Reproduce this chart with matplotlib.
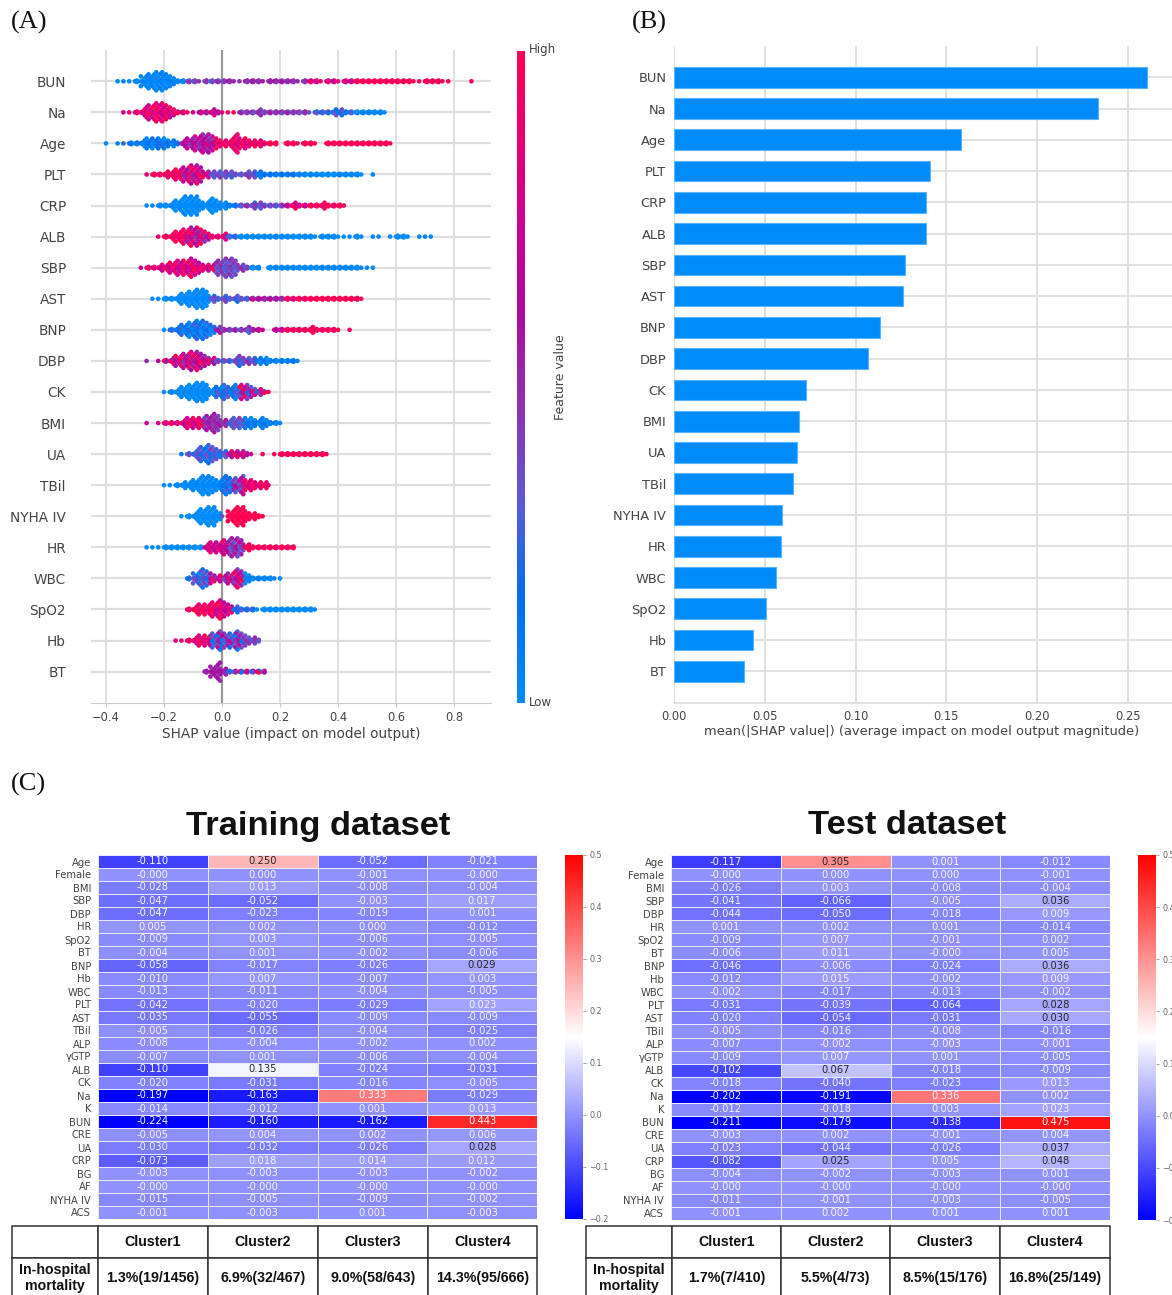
import numpy as np
import matplotlib
matplotlib.use("Agg")
import matplotlib.pyplot as plt
from matplotlib.colors import LinearSegmentedColormap, Normalize

W, H = 1172, 1295
TXT = "#444444"
GRID = "#dedede"

# ---------- Panel A / B shared ----------
features = ["BUN", "Na", "Age", "PLT", "CRP", "ALB", "SBP", "AST", "BNP", "DBP",
            "CK", "BMI", "UA", "TBil", "NYHA IV", "HR", "WBC", "SpO2", "Hb", "BT"]
mean_abs_shap = [0.2605, 0.2335, 0.158, 0.141, 0.139, 0.139, 0.127, 0.126, 0.1135, 0.107,
                 0.0725, 0.069, 0.068, 0.0655, 0.0595, 0.059, 0.056, 0.0505, 0.0435, 0.0385]

# Swarm profiles: first bin (SHAP), half-stack height per 0.02-wide bin
# (-1 = no point), and feature-value ranges per SHAP interval.
BUN_start = -0.36
BUN_stack = [0,0,0,1,3,4,5,5,4,3,1,1,1,1,0,1,1,1,1,1,0,0,1,1,1,0,1,1,1,1,1,0,1,1,1,0,1,1,0,1,1,1,1,1,1,1,1,1,1,1,1,0,0,1,1,1,0,0,-1,-1,-1,0]
BUN_edges = [-0.13, 0.0, 0.3, 0.45, 9]
BUN_lo = [0.0, 0.3, 0.42, 0.7, 0.93]
BUN_hi = [0.08, 0.5, 0.6, 0.88, 1.0]

Na_start = -0.34
Na_stack = [0,0,1,2,4,5,5,4,3,1,1,0,0,1,1,2,1,0,0,0,1,1,1,2,1,1,1,1,1,1,1,1,0,1,1,1,2,2,1,1,1,1,1,1,1,0]
Na_edges = [-0.14, 0.0, 0.05, 0.3, 0.45, 9]
Na_lo = [0.7, 0.55, 0.85, 0.35, 0.1, 0.0]
Na_hi = [1.0, 0.95, 1.0, 0.55, 0.35, 0.05]

Age_start = -0.40
Age_stack = [0,-1,0,0,1,1,2,3,3,3,3,2,1,2,3,4,5,5,4,3,2,2,5,3,3,2,2,1,1,1,-1,1,1,0,1,1,0,-1,1,1,1,1,1,1,1,1,1,1,1,0]
Age_edges = [-0.16, -0.03, 0.15, 9]
Age_lo = [0.0, 0.45, 0.8, 0.98]
Age_hi = [0.22, 0.78, 1.0, 1.0]

PLT_start = -0.26
PLT_stack = [0,1,1,2,2,3,4,5,5,4,2,2,2,2,2,1,1,2,2,2,1,1,1,1,1,1,1,1,1,1,1,1,1,1,1,1,1,0,-1,0]
PLT_edges = [-0.16, -0.06, 0.1, 0.25, 9]
PLT_lo = [0.85, 0.5, 0.25, 0.05, 0.0]
PLT_hi = [1.0, 1.0, 0.45, 0.2, 0.05]

CRP_start = -0.26
CRP_stack = [0,0,1,1,2,3,5,5,5,3,2,4,3,2,1,1,1,1,2,2,1,1,1,1,1,2,1,1,1,1,2,1,1,1,0]
CRP_edges = [0.0, 0.05, 0.2, 0.3, 9]
CRP_lo = [0.0, 0.05, 0.25, 0.6, 0.88]
CRP_hi = [0.02, 0.15, 0.5, 0.95, 1.0]

ALB_start = -0.22
ALB_stack = [0,1,2,3,4,5,5,4,3,1,1,2,1,1,1,1,1,1,1,1,1,1,1,1,1,1,1,0,1,1,1,0,0,0,1,0,-1,0,0,-1,0,1,1,0,-1,0,0,0]
ALB_edges = [-0.14, -0.05, 0.0, 0.05, 9]
ALB_lo = [0.88, 0.45, 0.75, 0.18, 0.0]
ALB_hi = [1.0, 1.0, 0.95, 0.3, 0.02]

SBP_start = -0.28
SBP_stack = [0,1,1,2,2,3,4,4,5,4,3,2,2,4,5,5,4,2,1,1,1,-1,1,1,1,1,1,1,1,1,1,1,1,1,1,1,1,1,0,0,0]
SBP_edges = [-0.04, 0.09, 9]
SBP_lo = [0.65, 0.28, 0.0]
SBP_hi = [1.0, 0.5, 0.05]

AST_start = -0.24
AST_stack = [0,0,1,1,2,3,4,5,5,4,2,1,2,1,2,1,1,1,1,1,1,1,1,1,1,1,1,1,1,1,1,1,1,1,1,1,0]
AST_edges = [-0.04, 0.1, 0.2, 0.3, 9]
AST_lo = [0.0, 0.2, 0.42, 0.8, 0.96]
AST_hi = [0.02, 0.42, 0.72, 1.0, 1.0]

BNP_start = -0.20
BNP_stack = [0,1,2,3,4,5,5,4,3,2,1,1,1,1,2,1,1,0,-1,1,1,1,1,1,1,2,1,1,1,1,0,-1,0]
BNP_edges = [-0.03, 0.1, 0.2, 9]
BNP_lo = [0.0, 0.3, 0.6, 0.9]
BNP_hi = [0.25, 0.6, 0.8, 1.0]

DBP_start = -0.26
DBP_stack = [0,-1,0,1,2,3,4,5,5,4,3,2,1,1,1,2,3,2,2,2,2,1,1,1,1,1,0]
DBP_edges = [-0.04, 0.1, 9]
DBP_lo = [0.48, 0.2, 0.0]
DBP_hi = [1.0, 0.48, 0.15]

CK_start = -0.20
CK_stack = [0,1,2,3,4,5,5,4,2,3,4,3,4,4,4,3,2,1,0]
CK_edges = [-0.03, 0.04, 0.14, 9]
CK_lo = [0.0, 0.05, 0.2, 0.9]
CK_hi = [0.02, 0.3, 1.0, 1.0]

BMI_start = -0.26
BMI_stack = [0,-1,0,1,1,1,2,3,3,3,4,5,4,2,2,3,3,3,3,2,3,1,1,0]
BMI_edges = [-0.07, 0.0, 0.06, 9]
BMI_lo = [0.7, 0.4, 0.25, 0.0]
BMI_hi = [1.0, 0.6, 0.45, 0.15]

UA_start = -0.14
UA_stack = [0,1,2,4,5,4,3,2,2,2,2,1,0,-1,0,-1,0,1,1,1,1,1,1,1,1,0]
UA_edges = [0.0, 0.1, 9]
UA_lo = [0.1, 0.5, 0.95]
UA_hi = [0.4, 0.95, 1.0]

TBil_start = -0.20
TBil_stack = [0,0,1,2,2,3,5,5,4,3,5,4,4,5,3,3,2,2,0]
TBil_edges = [-0.02, 0.03, 0.08, 9]
TBil_lo = [0.0, 0.08, 0.28, 0.8]
TBil_hi = [0.03, 0.25, 0.7, 1.0]

NYHA_start = -0.14
NYHA_stack = [0,1,2,4,5,5,3,0,3,5,5,3,2,1,0]
NYHA_edges = [-0.01, 0.015, 9]
NYHA_lo = [0.0, 0.3, 1.0]
NYHA_hi = [0.0, 0.4, 1.0]

HR_start = -0.26
HR_stack = [0,0,0,1,1,1,1,1,1,1,2,3,3,4,5,5,4,2,1,1,1,1,1,1,1,1]
HR_edges = [-0.07, 0.0, 0.07, 9]
HR_lo = [0.0, 0.6, 0.3, 0.9]
HR_hi = [0.0, 0.9, 0.7, 1.0]

WBC_start = -0.12
WBC_stack = [1,3,5,4,3,2,2,3,5,4,3,1,1,1,1,0,0]
WBC_edges = [-0.04, 0.08, 9]
WBC_lo = [0.1, 0.4, 0.0]
WBC_hi = [0.4, 1.0, 0.1]

SpO2_start = -0.12
SpO2_stack = [1,2,3,3,4,5,4,3,2,1,1,1,0,1,1,1,1,1,1,1,1,1,0]
SpO2_edges = [-0.03, 0.04, 0.1, 9]
SpO2_lo = [0.85, 0.6, 0.1, 0.0]
SpO2_hi = [1.0, 1.0, 0.3, 0.02]

Hb_start = -0.16
Hb_stack = [0,0,1,2,3,3,4,5,4,4,5,4,3,2,1]
Hb_edges = [-0.05, 0.07, 9]
Hb_lo = [0.75, 0.1, 0.3]
Hb_hi = [1.0, 0.7, 0.5]

BT_start = -0.06
BT_stack = [1,3,5,2,1,1,1,1,1,1,1]
BT_edges = [0.0, 0.03, 9]
BT_lo = [0.5, 0.1, 0.1]
BT_hi = [0.6, 0.3, 1.0]

swarm_rows = [
    (BUN_start, BUN_stack, BUN_edges, BUN_lo, BUN_hi), (Na_start, Na_stack, Na_edges, Na_lo, Na_hi),
    (Age_start, Age_stack, Age_edges, Age_lo, Age_hi), (PLT_start, PLT_stack, PLT_edges, PLT_lo, PLT_hi),
    (CRP_start, CRP_stack, CRP_edges, CRP_lo, CRP_hi), (ALB_start, ALB_stack, ALB_edges, ALB_lo, ALB_hi),
    (SBP_start, SBP_stack, SBP_edges, SBP_lo, SBP_hi), (AST_start, AST_stack, AST_edges, AST_lo, AST_hi),
    (BNP_start, BNP_stack, BNP_edges, BNP_lo, BNP_hi), (DBP_start, DBP_stack, DBP_edges, DBP_lo, DBP_hi),
    (CK_start, CK_stack, CK_edges, CK_lo, CK_hi), (BMI_start, BMI_stack, BMI_edges, BMI_lo, BMI_hi),
    (UA_start, UA_stack, UA_edges, UA_lo, UA_hi), (TBil_start, TBil_stack, TBil_edges, TBil_lo, TBil_hi),
    (NYHA_start, NYHA_stack, NYHA_edges, NYHA_lo, NYHA_hi), (HR_start, HR_stack, HR_edges, HR_lo, HR_hi),
    (WBC_start, WBC_stack, WBC_edges, WBC_lo, WBC_hi), (SpO2_start, SpO2_stack, SpO2_edges, SpO2_lo, SpO2_hi),
    (Hb_start, Hb_stack, Hb_edges, Hb_lo, Hb_hi), (BT_start, BT_stack, BT_edges, BT_lo, BT_hi),
]

# ---------- Panel C ----------
rows_c = ["Age", "Female", "BMI", "SBP", "DBP", "HR", "SpO2", "BT", "BNP", "Hb", "WBC", "PLT", "AST", "TBil",
          "ALP", "γGTP", "ALB", "CK", "Na", "K", "BUN", "CRE", "UA", "CRP", "BG", "AF", "NYHA IV", "ACS"]
train_c1 = [-0.110,-0.000,-0.028,-0.047,-0.047,0.005,-0.009,-0.004,-0.058,-0.010,-0.013,-0.042,-0.035,-0.005,
            -0.008,-0.007,-0.110,-0.020,-0.197,-0.014,-0.224,-0.005,-0.030,-0.073,-0.003,-0.000,-0.015,-0.001]
train_c2 = [0.250,0.000,0.013,-0.052,-0.023,0.002,0.003,0.001,-0.017,0.007,-0.011,-0.020,-0.055,-0.026,
            -0.004,0.001,0.135,-0.031,-0.163,-0.012,-0.160,0.004,-0.032,0.018,-0.003,-0.000,-0.005,-0.003]
train_c3 = [-0.052,-0.001,-0.008,-0.003,-0.019,0.000,-0.006,-0.002,-0.026,-0.007,-0.004,-0.029,-0.009,-0.004,
            -0.002,-0.006,-0.024,-0.016,0.333,0.001,-0.162,0.002,-0.026,0.014,-0.003,-0.000,-0.009,0.001]
train_c4 = [-0.021,-0.000,-0.004,0.017,0.001,-0.012,-0.005,-0.006,0.029,0.003,-0.005,0.023,-0.009,-0.025,
            0.002,-0.004,-0.031,-0.005,-0.029,0.013,0.443,0.006,0.028,0.012,-0.002,-0.000,-0.002,-0.003]
test_c1 = [-0.117,-0.000,-0.026,-0.041,-0.044,0.001,-0.009,-0.006,-0.046,-0.012,-0.002,-0.031,-0.020,-0.005,
           -0.007,-0.009,-0.102,-0.018,-0.202,-0.012,-0.211,-0.003,-0.023,-0.082,-0.004,-0.000,-0.011,-0.001]
test_c2 = [0.305,0.000,0.003,-0.066,-0.050,0.002,0.007,0.011,-0.006,0.015,-0.017,-0.039,-0.054,-0.016,
           -0.002,0.007,0.067,-0.040,-0.191,-0.018,-0.179,0.002,-0.044,0.025,-0.002,-0.000,-0.001,0.002]
test_c3 = [0.001,0.000,-0.008,-0.005,-0.018,0.001,-0.001,-0.000,-0.024,-0.002,-0.013,-0.064,-0.031,-0.008,
           -0.003,0.001,-0.018,-0.023,0.336,0.003,-0.138,-0.001,-0.026,0.005,-0.003,-0.000,-0.003,0.001]
test_c4 = [-0.012,-0.001,-0.004,0.036,0.009,-0.014,0.002,0.005,0.036,0.009,-0.002,0.028,0.030,-0.016,
           -0.001,-0.005,-0.009,0.013,0.002,0.023,0.475,0.004,0.037,0.048,0.001,-0.000,-0.005,0.001]
clusters = ["Cluster1", "Cluster2", "Cluster3", "Cluster4"]
mortality_label = "In-hospital\nmortality"
train_mortality = ["1.3%(19/1456)", "6.9%(32/467)", "9.0%(58/643)", "14.3%(95/666)"]
test_mortality = ["1.7%(7/410)", "5.5%(4/73)", "8.5%(15/176)", "16.8%(25/149)"]
cbar_ticks = [-0.2, -0.1, 0.0, 0.1, 0.2, 0.3, 0.4, 0.5]

shap_cmap = LinearSegmentedColormap.from_list(
    "shap_red_blue", [(0.0, "#008bfb"), (0.16, "#006fee"), (0.30, "#5a5cd6"), (0.45, "#8b35b0"),
                      (0.60, "#ac0aa0"), (0.75, "#d00090"), (1.0, "#ff0051")])
heat_norm = Normalize(-0.2, 0.5)


def px_axes(fig, x0, y0, x1, y1, **kw):
    return fig.add_axes([x0 / W, 1 - y1 / H, (x1 - x0) / W, (y1 - y0) / H], **kw)


def lum(rgb):
    c = np.asarray(rgb[:3])
    c = np.where(c <= 0.03928, c / 12.92, ((c + 0.055) / 1.055) ** 2.4)
    return c @ [0.2126, 0.7152, 0.0722]


fig = plt.figure(figsize=(W / 100, H / 100), dpi=100)
plt.rcParams["font.family"] = "DejaVu Sans"

# ---------- Panel A ----------
axA = px_axes(fig, 91, 50.2, 491, 702.7)
row_px = 31.07
for i, (start, stack, edges, lo, hi) in enumerate(swarm_rows):
    xs, ys, cs = [], [], []
    for j, c in enumerate(stack):
        if c < 0:
            continue
        x = start + 0.02 * j
        seg = int(np.searchsorted(edges, x))
        for k in range(-c, c + 1):
            off = 0 if k == 0 else np.sign(k) * (abs(k) * 2.05 - 1.25) / row_px
            xs.append(x + (abs(k) % 3) * 0.0067)
            ys.append(i + off)
            frac = ((j * 5 + k * 7 + (k * k) * 3) % 8) / 7
            cs.append(lo[seg] + (hi[seg] - lo[seg]) * frac)
    axA.scatter(xs, ys, c=cs, cmap=shap_cmap, vmin=0, vmax=1, s=11, linewidths=0, zorder=3)
    axA.axhline(i, color=GRID, lw=1.6, zorder=1)
axA.axvline(0, color="#999999", lw=1.6, zorder=2)
axA.set_xlim((91 - 222) / 290, (491 - 222) / 290)
axA.set_ylim(len(features), -1)
axA.set_xticks([-0.4, -0.2, 0.0, 0.2, 0.4, 0.6, 0.8])
axA.set_yticks(range(len(features)))
axA.set_yticklabels(features)
axA.grid(axis="x", color=GRID, lw=1.3, zorder=0)
axA.set_axisbelow(True)
for s in ["top", "left", "right"]:
    axA.spines[s].set_visible(False)
axA.spines["bottom"].set_color("#cccccc")
axA.tick_params(axis="x", labelsize=8.3, labelcolor=TXT, color="#cccccc", length=3, pad=3)
axA.tick_params(axis="y", labelsize=9.8, labelcolor=TXT, length=0, pad=18)
axA.set_xlabel("SHAP value (impact on model output)", fontsize=9.8, color=TXT, labelpad=2)

caxA = px_axes(fig, 517, 51, 525, 703)
caxA.imshow(np.linspace(1, 0, 256)[:, None], aspect="auto", cmap=shap_cmap, vmin=0, vmax=1)
caxA.axis("off")
fig.text(529 / W, 1 - 50 / H, "High", fontsize=8.5, color=TXT, va="center")
fig.text(529 / W, 1 - 703 / H, "Low", fontsize=8.5, color=TXT, va="center")
fig.text(560 / W, 1 - 377 / H, "Feature value", fontsize=9, color=TXT, rotation=90, va="center", ha="center")

# ---------- Panel B ----------
axB = px_axes(fig, 674, 46, 1172, 702.6)
ypos = np.arange(len(features))
axB.barh(ypos, mean_abs_shap, height=0.66, color="#008bfb", edgecolor="#5ab4fb", lw=0.8, zorder=3)
for y in ypos:
    axB.axhline(y, color=GRID, lw=1.3, zorder=1)
axB.set_xlim(0, (1172 - 674) / 1816)
axB.set_ylim(len(features), -1)
axB.set_xticks([0, 0.05, 0.10, 0.15, 0.20, 0.25])
axB.set_xticklabels(["0.00", "0.05", "0.10", "0.15", "0.20", "0.25"])
axB.set_yticks(ypos)
axB.set_yticklabels(features)
axB.grid(axis="x", color=GRID, lw=1.3, zorder=0)
axB.set_axisbelow(True)
for s in ["top", "right"]:
    axB.spines[s].set_visible(False)
axB.spines["left"].set_color(GRID)
axB.spines["bottom"].set_color(GRID)
axB.spines["bottom"].set_linewidth(1.3)
axB.tick_params(axis="x", labelsize=8.3, labelcolor=TXT, length=0, pad=5)
axB.tick_params(axis="y", labelsize=9.4, labelcolor=TXT, length=0, pad=5.5)
axB.set_xlabel("mean(|SHAP value|) (average impact on model output magnitude)", fontsize=9.4,
               color=TXT, labelpad=2, x=(922 - 674) / 498)


# ---------- Panel C ----------
def heatmap(columns, x0, x1, y0, y1, cb_x0):
    ax = px_axes(fig, x0, y0, x1, y1)
    data = np.array(columns).T
    cmap = plt.get_cmap("bwr")
    ax.pcolormesh(data, cmap=cmap, norm=heat_norm, edgecolors="#e8e8ff", linewidth=0.6)
    ax.set_xlim(0, 4)
    ax.set_ylim(len(rows_c), 0)
    for r in range(data.shape[0]):
        for c in range(data.shape[1]):
            col = "#262626" if lum(cmap(heat_norm(data[r, c]))) > 0.415 else "#f4f4ff"
            ax.text(c + 0.5, r + 0.5, f"{data[r, c]:.3f}", ha="center", va="center", fontsize=7.2, color=col)
    ax.set_xticks([])
    ax.set_yticks(np.arange(len(rows_c)) + 0.5)
    ax.set_yticklabels(rows_c, fontsize=7.2, color=TXT)
    ax.tick_params(axis="y", length=0, pad=5)
    for s in ax.spines.values():
        s.set_visible(False)
    cax = px_axes(fig, cb_x0, y0, cb_x0 + 18, y1)
    cb = fig.colorbar(plt.cm.ScalarMappable(norm=heat_norm, cmap=cmap), cax=cax, ticks=cbar_ticks)
    cb.outline.set_visible(False)
    cax.tick_params(labelsize=5.8, labelcolor="#666666", color="#999999", length=2.5, width=0.6, pad=2)


def table(x_edges, y0, y1, mort):
    ax = px_axes(fig, x_edges[0], y0, x_edges[-1], y1)
    ax.axis("off")
    cw = np.diff(x_edges) / (x_edges[-1] - x_edges[0])
    cells = [[""] + clusters, [mortality_label] + mort]
    t = ax.table(cellText=cells, colWidths=list(cw), bbox=[0, 0, 1, 1], cellLoc="center")
    t.auto_set_font_size(False)
    for (r, c), cell in t.get_celld().items():
        cell.set_edgecolor("#333333")
        cell.set_linewidth(1.1)
        cell.set_height(32 if r == 0 else 40)
        cell.get_text().set_fontfamily("Liberation Sans")
        cell.get_text().set_fontweight("bold")
        cell.get_text().set_fontsize(10.2)
        cell.get_text().set_color("#111111")
        cell.get_text().set_linespacing(1.2)


heatmap([train_c1, train_c2, train_c3, train_c4], 98, 537, 855, 1219, 565)
heatmap([test_c1, test_c2, test_c3, test_c4], 671, 1110, 855, 1220, 1138)
table([12, 98, 208, 318, 428, 537], 1226, 1298, train_mortality)
table([586, 672, 781, 890, 1000, 1110], 1226, 1298, test_mortality)

fig.text(318 / W, 1 - 826 / H, "Training dataset", fontsize=24.8, fontweight="bold", family="Liberation Sans",
         ha="center", va="center", color="#111111")
fig.text(907 / W, 1 - 826 / H, "Test dataset", fontsize=24.8, fontweight="bold", family="Liberation Sans",
         ha="center", va="center", color="#111111")
for label, x, y in [("(A)", 11, 22.5), ("(B)", 632, 22.5), ("(C)", 11, 784.5)]:
    fig.text(x / W, 1 - y / H, label, fontsize=19, family="Liberation Serif", va="center", color="#111111")

fig.savefig("out.png", dpi=100)
